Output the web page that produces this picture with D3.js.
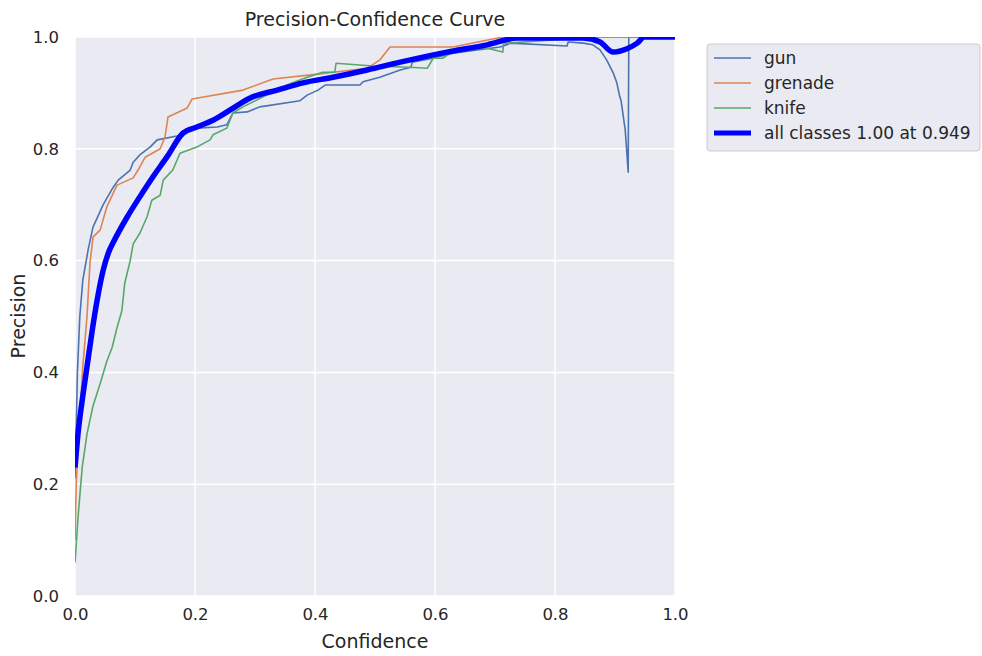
<!DOCTYPE html>
<html>
<head>
<meta charset="utf-8">
<script src="https://cdn.jsdelivr.net/npm/d3@7"></script>
<style>
  body { margin: 0; background: #fff; }
  text { font-family: "DejaVu Sans", sans-serif; fill: #262626; }
</style>
</head>
<body>
<svg id="chart" width="982" height="656"></svg>
<script>
// data (confidence, precision)
let gun = [[0,0.21],[0.002,0.30],[0.004,0.40],[0.008,0.50],[0.013,0.565],[0.022,0.62],[0.03,0.66],[0.047,0.70],[0.063,0.73],[0.072,0.744],[0.092,0.762],[0.097,0.776],[0.108,0.789],[0.125,0.803],[0.137,0.816],[0.17,0.823],[0.203,0.837],[0.237,0.839],[0.253,0.843],[0.263,0.864],[0.287,0.866],[0.308,0.875],[0.375,0.886],[0.387,0.896],[0.405,0.905],[0.417,0.914],[0.475,0.914],[0.48,0.92],[0.508,0.928],[0.542,0.941],[0.56,0.946],[0.562,0.955],[0.597,0.962],[0.63,0.971],[0.708,0.982],[0.72,0.986],[0.725,0.989],[0.82,0.984],[0.822,0.991],[0.847,0.989],[0.863,0.986],[0.875,0.977],[0.886,0.959],[0.897,0.936],[0.903,0.918],[0.908,0.893],[0.91,0.887],[0.917,0.834],[0.922,0.758],[0.923,1.0],[1.0,1.0]];
let grenade = [[0,0.10],[0.002,0.2],[0.008,0.32],[0.013,0.41],[0.02,0.50],[0.025,0.596],[0.03,0.642],[0.042,0.655],[0.053,0.696],[0.07,0.735],[0.097,0.748],[0.105,0.762],[0.117,0.785],[0.142,0.80],[0.15,0.821],[0.155,0.857],[0.187,0.873],[0.195,0.889],[0.28,0.905],[0.33,0.925],[0.408,0.934],[0.487,0.944],[0.508,0.959],[0.525,0.982],[0.63,0.982],[0.713,1.0],[1.0,1.0]];
let knife = [[0,0.06],[0.005,0.14],[0.012,0.23],[0.02,0.29],[0.03,0.34],[0.042,0.38],[0.053,0.42],[0.062,0.445],[0.07,0.48],[0.078,0.51],[0.083,0.56],[0.092,0.60],[0.097,0.63],[0.108,0.649],[0.12,0.678],[0.128,0.708],[0.142,0.717],[0.147,0.744],[0.163,0.762],[0.175,0.792],[0.203,0.803],[0.225,0.816],[0.23,0.825],[0.253,0.837],[0.263,0.864],[0.28,0.875],[0.353,0.914],[0.387,0.928],[0.413,0.937],[0.433,0.937],[0.435,0.953],[0.497,0.948],[0.558,0.946],[0.587,0.944],[0.597,0.962],[0.613,0.962],[0.637,0.98],[0.687,0.98],[0.713,0.973],[0.714,0.986],[0.72,0.989],[0.8,0.995],[0.85,1.0],[1.0,1.0]];
let allClasses = [[0,0.23],[0.005,0.29],[0.012,0.35],[0.02,0.41],[0.028,0.47],[0.037,0.53],[0.047,0.583],[0.058,0.62],[0.063,0.631],[0.087,0.678],[0.108,0.714],[0.13,0.75],[0.153,0.785],[0.18,0.828],[0.203,0.839],[0.23,0.851],[0.258,0.869],[0.292,0.891],[0.337,0.905],[0.38,0.918],[0.43,0.928],[0.487,0.941],[0.542,0.955],[0.62,0.973],[0.687,0.986],[0.737,0.998],[0.847,0.998],[0.875,0.991],[0.897,0.973],[0.92,0.979],[0.937,0.989],[0.949,1.0],[1.0,1.0]];

let names = ["gun", "grenade", "knife", "all classes 1.00 at 0.949"];
let colors = ["#4C72B0", "#DD8452", "#55A868", "#0000FF"];
let ticks = [0, 0.2, 0.4, 0.6, 0.8, 1.0];

let svg = d3.select("#chart");
let pLeft = 75, pRight = 675, pTop = 37, pBottom = 596;

let x = d3.scaleLinear().domain([0, 1]).range([pLeft, pRight]);
let y = d3.scaleLinear().domain([0, 1]).range([pBottom, pTop]);

svg.append("rect")
    .attr("x", pLeft).attr("y", pTop)
    .attr("width", pRight - pLeft).attr("height", pBottom - pTop)
    .attr("fill", "#EAEAF2");

svg.append("clipPath").attr("id", "clip")
    .append("rect")
    .attr("x", pLeft).attr("y", pTop)
    .attr("width", pRight - pLeft).attr("height", pBottom - pTop);

/* grid */
svg.append("g").selectAll("line").data(ticks).enter().append("line")
    .attr("x1", d => x(d)).attr("x2", d => x(d))
    .attr("y1", pTop).attr("y2", pBottom)
    .attr("stroke", "#fff").attr("stroke-width", 1.5);
svg.append("g").selectAll("line").data(ticks).enter().append("line")
    .attr("y1", d => y(d)).attr("y2", d => y(d))
    .attr("x1", pLeft).attr("x2", pRight)
    .attr("stroke", "#fff").attr("stroke-width", 1.5);

/* axes */
let xAxis = svg.append("g")
    .attr("transform", `translate(0,${pBottom})`)
    .call(d3.axisBottom(x).tickValues(ticks).tickFormat(d3.format(".1f")).tickSize(0).tickPadding(12));
let yAxis = svg.append("g")
    .attr("transform", `translate(${pLeft},0)`)
    .call(d3.axisLeft(y).tickValues(ticks).tickFormat(d3.format(".1f")).tickSize(0).tickPadding(16));
[xAxis, yAxis].forEach(a => {
    a.select(".domain").remove();
    a.selectAll("text").style("font-size", "16.5px").style("font-family", "DejaVu Sans").attr("fill", "#262626");
});

/* curves */
let line = d3.line().x(d => x(d[0])).y(d => y(d[1]));
let smooth = d3.line().curve(d3.curveMonotoneX).x(d => x(d[0])).y(d => y(d[1]));
let series = [gun, grenade, knife, allClasses];
let plot = svg.append("g").attr("clip-path", "url(#clip)");
series.forEach(function(s, i) {
    plot.append("path")
        .datum(s)
        .attr("d", i == 3 ? smooth : line)
        .attr("fill", "none")
        .attr("stroke", colors[i])
        .attr("stroke-width", i == 3 ? 5.5 : 1.6)
        .attr("stroke-linejoin", "round");
});

/* labels */
svg.append("text").attr("x", 375).attr("y", 26).attr("text-anchor", "middle")
    .style("font-size", "19px").text("Precision-Confidence Curve");
svg.append("text").attr("x", 375).attr("y", 648).attr("text-anchor", "middle")
    .style("font-size", "19px").text("Confidence");
svg.append("text").attr("transform", "translate(25,316) rotate(-90)").attr("text-anchor", "middle")
    .style("font-size", "19px").text("Precision");

/* legend */
let lg = svg.append("g");
lg.append("rect")
    .attr("x", 707).attr("y", 44).attr("width", 273).attr("height", 107)
    .attr("rx", 3).attr("fill", "#EAEAF2").attr("stroke", "#cccccc");
names.forEach(function(n, i) {
    let ly = 58 + i * 25;
    lg.append("line")
        .attr("x1", 714).attr("x2", 751).attr("y1", ly).attr("y2", ly)
        .attr("stroke", colors[i]).attr("stroke-width", i == 3 ? 5 : 1.6);
    lg.append("text").attr("x", 764).attr("y", ly + 6)
        .style("font-size", "17px").text(n);
});
</script>
</body>
</html>
